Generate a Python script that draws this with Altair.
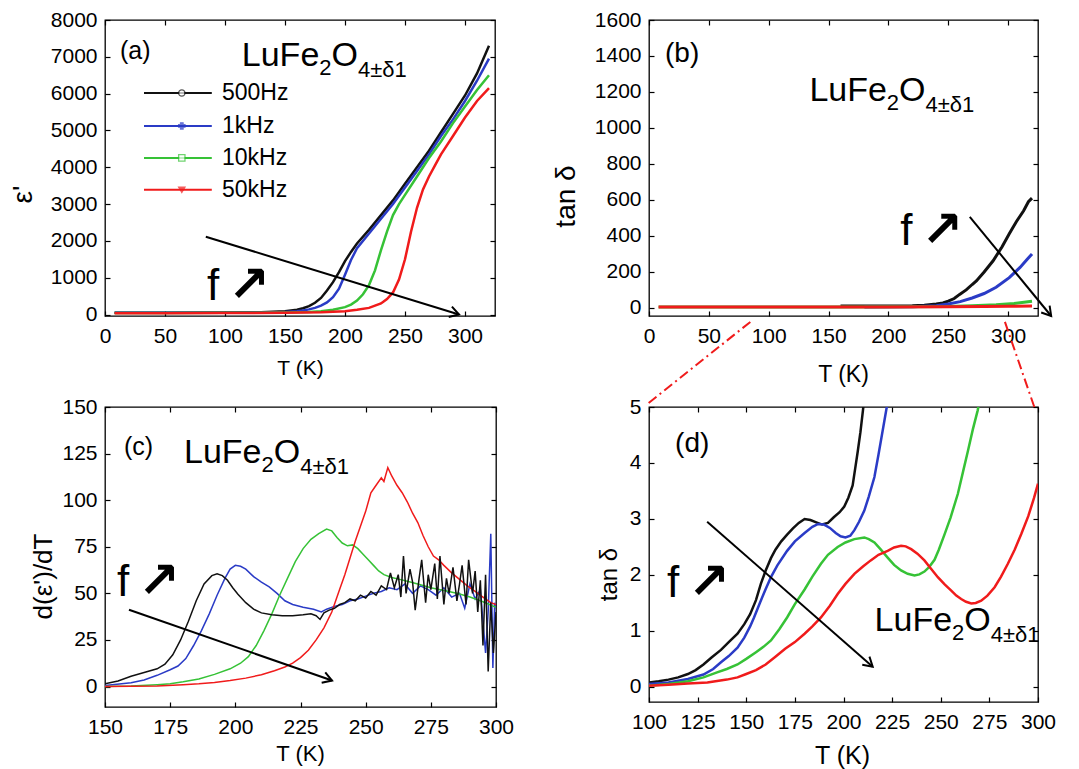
import math
import altair as alt
import pandas as pd

FONT = "Liberation Sans"
SERIES = ["500Hz", "1kHz", "10kHz", "50kHz"]
COLORS = ["#111111", "#2a3bc6", "#36c236", "#f01b1b"]
LEG_SHAPES = ["circle", "cross", "square", "triangle-down"]
LEG_FILLS = ["#ffffff", "#2a3bc6", "#ffffff", "#f01b1b"]
FORMULA = ["LuFe", "2", "O", "4±δ1"]
F_LABEL = ["f", "↗"]
PANEL_LABELS = ["(a)", "(b)", "(c)", "(d)"]

# ---------------- panel (a): eps' vs T ----------------
A_T = [8, 50, 100, 130, 150, 160, 165, 170, 175, 180, 185, 190, 195, 200, 205, 210,
       220, 230, 240, 250, 260, 270, 280, 290, 300, 310, 320]
A_500 = [50, 50, 55, 65, 90, 130, 170, 230, 320, 450, 650, 880, 1150, 1450, 1700, 1930,
         2300, 2700, 3100, 3550, 4000, 4450, 4950, 5450, 5950, 6550, 7300]
A_1K = [45, 45, 50, 55, 70, 90, 110, 140, 180, 240, 330, 470, 700, 1080, 1480, 1800,
        2200, 2600, 3000, 3450, 3900, 4350, 4850, 5300, 5800, 6350, 6950]
A_T_10K = [8, 50, 100, 150, 170, 180, 190, 200, 205, 210, 215, 220, 225, 230, 235, 240,
           245, 250, 260, 270, 280, 290, 300, 310, 320]
A_10K = [40, 40, 45, 55, 70, 90, 130, 200, 270, 380, 550, 800, 1200, 1750, 2250, 2700,
         3000, 3250, 3750, 4250, 4700, 5200, 5650, 6100, 6500]
A_T_50K = [8, 50, 100, 150, 180, 200, 210, 220, 230, 235, 240, 245, 250, 255, 260, 265,
           270, 275, 280, 290, 300, 310, 320]
A_50K = [35, 35, 40, 45, 60, 90, 130, 180, 300, 420, 600, 950, 1500, 2250, 2900, 3400,
         3750, 4050, 4350, 4850, 5350, 5800, 6150]

# ---------------- panel (b): tan delta vs T ----------------
B_T_500 = [160, 200, 220, 230, 240, 245.6, 250, 255, 259.5, 265, 270, 273.5, 280, 287.5,
           295, 301, 307, 313, 317, 320]
B_500 = [10, 10, 12, 15, 22, 28, 38, 52, 75, 100, 130, 150, 200, 262, 340, 412, 480, 540,
         590, 610]
B_T_1K = [180, 220, 240, 250, 260, 270, 280, 290, 301, 310, 316, 320]
B_1K = [5, 7, 12, 22, 35, 55, 80, 115, 168, 225, 270, 300]
B_T_10K = [8, 150, 250, 270, 290, 305, 315, 320]
B_10K = [5, 5, 8, 12, 18, 25, 33, 37]
B_T_50K = [8, 100, 200, 250, 280, 300, 320]
B_50K = [5, 5, 5, 6, 8, 9, 10]

# ---------------- panel (c): d(eps')/dT vs T ----------------
C_T_500 = [150, 155, 160, 165, 170, 173, 176, 179, 182, 185, 188, 191, 193, 195, 197, 199,
           201, 204, 207, 210, 214, 218, 222, 226, 229, 231, 232.5, 234, 236, 238, 240,
           242, 244, 246, 248, 250, 252, 254, 256, 258, 259.5, 261, 262.5, 263.5, 264.5,
           265.5, 267, 268, 269, 270.5, 271.5, 273, 274, 275, 276.5, 277.5, 278.5, 280,
           281, 282, 283.5, 285, 286, 287, 288.5, 289.5, 291, 292, 293, 294, 295, 296,
           297, 298, 299, 300]
C_500 = [1.5, 3, 5.5, 7.5, 9.5, 12, 17, 25, 35, 46, 55, 59.5, 60.5, 59.5, 57, 53,
         49.5, 45, 41.5, 39.5, 38.5, 38, 38, 38.5, 39, 38, 36, 39.5, 41, 42, 44,
         45, 47, 46, 49, 47.5, 51, 49, 54, 52, 61, 53, 60, 48, 70,
         50, 63, 56, 41, 58, 68, 45, 60, 52, 66, 47, 70,
         44, 58, 50, 64, 46, 55, 65, 44, 68, 50, 62, 40, 57, 22, 60,
         8, 45, 18, 40]
C_T_1K = [150, 160, 165, 170, 175, 178, 181, 184, 187, 190, 193, 196, 198, 200, 202, 204,
          207, 210, 213, 216, 219, 222, 226, 230, 233, 235, 238, 241, 244, 247, 250, 253,
          256, 259, 262, 265, 268, 271, 274, 277, 280, 283, 286, 288, 290, 292, 294, 296,
          297, 298, 298.8, 299.5, 300]
C_1K = [0.5, 2, 3.5, 6, 9, 11, 15, 22, 30, 39, 49, 58, 63, 65, 64.5, 63,
        59, 56, 53.5, 50, 46, 44, 42.5, 41.5, 40, 41.5, 43, 44, 46, 47, 48.5, 50,
        51, 53, 52, 55, 50, 54, 52, 49, 53, 48, 50, 42, 55, 47, 52, 18,
        40, 82, 10, 45, 42]
C_T_10K = [150, 160, 170, 175, 180, 186, 192, 198, 202, 205, 208, 211, 214, 217, 220, 223,
           226, 229, 232, 235, 237, 239, 241, 243, 245, 247, 249, 251, 253, 255, 257, 260,
           263, 266, 270, 275, 280, 285, 290, 295, 300]
C_10K = [0, 0.3, 1, 1.5, 2.5, 4, 6.5, 9.5, 12.5, 16, 22, 30, 39, 49, 58, 67,
         74, 79, 82, 84.5, 83.5, 80, 77, 75.5, 76, 74, 71, 68, 65, 62, 60, 58.5,
         57.5, 56.5, 55, 53, 51.5, 50, 48, 45.5, 42.5]
C_T_50K = [150, 170, 180, 186, 192, 198, 204, 210, 215, 219, 222, 225, 228, 231, 234, 237,
           240, 242, 244, 246, 248, 250, 252, 254, 256, 257, 258.5, 260, 262, 264, 266,
           268, 270, 272, 274, 276, 278, 280, 283, 286, 289, 292, 295, 298, 300]
C_50K = [0, 0.3, 1, 1.5, 2.2, 3.2, 4.5, 6.3, 8.5, 10.5, 12.5, 15.5, 19.5, 25, 31.5, 40,
         52, 60, 69, 78, 86, 94, 104, 108, 112, 110, 117.5, 113, 108, 104, 99,
         93, 88, 81, 75, 70, 68, 65, 61, 57.5, 54, 51, 48, 45, 44]

# ---------------- panel (d): tan delta (zoom) vs T ----------------
D_T_500 = [100, 105, 110, 115, 120, 124, 128, 132, 137, 141, 145.5, 149, 152, 155, 157.5,
           160, 162.7, 165, 168, 171, 174, 177, 180, 183, 186, 189, 192, 195, 198, 200.4,
           202.5, 204.7, 206, 207.3, 208.7, 210, 211.5, 213]
D_500 = [0.08, 0.1, 0.13, 0.17, 0.23, 0.3, 0.4, 0.52, 0.66, 0.8, 0.95, 1.12, 1.3, 1.55,
         1.84, 2.08, 2.3, 2.45, 2.6, 2.72, 2.83, 2.93, 3.0, 2.98, 2.94, 2.9, 2.93, 3.03,
         3.12, 3.22, 3.38, 3.6, 3.9, 4.2, 4.55, 4.94, 5.4, 5.9]
D_T_1K = [100, 110, 120, 128, 133, 137, 141, 145.5, 149, 152, 154, 157, 160, 162.7, 166,
          171, 175, 180, 184, 187, 190, 193, 196, 198.5, 201, 203.5, 205.6, 208, 210.7,
          213, 215.9, 218, 219.5, 221, 222.5, 224]
D_1K = [0.05, 0.08, 0.14, 0.22, 0.32, 0.44, 0.55, 0.7, 0.88, 1.08, 1.24, 1.5, 1.75, 1.96,
        2.17, 2.43, 2.6, 2.75, 2.86, 2.91, 2.9, 2.84, 2.75, 2.69, 2.67, 2.7, 2.8, 2.95,
        3.15, 3.4, 3.75, 4.15, 4.45, 4.75, 5.05, 5.4]
D_T_10K = [100, 110, 120, 128, 135, 140, 145.5, 150, 155, 159, 162.7, 167, 171, 175, 180,
           184, 188.4, 192, 197, 201, 205.6, 210.7, 213, 215.9, 219, 222.7, 226, 229.6,
           233, 236.5, 239, 241.6, 244, 246.8, 249, 252, 255, 258.8, 261.5, 264, 266.5,
           269, 271]
D_10K = [0.02, 0.05, 0.1, 0.17, 0.26, 0.32, 0.4, 0.5, 0.62, 0.72, 0.83, 1.03, 1.24, 1.48,
         1.74, 1.97, 2.2, 2.36, 2.5, 2.58, 2.64, 2.67, 2.64, 2.58, 2.46, 2.31, 2.18, 2.08,
         2.02, 1.99, 2.01, 2.06, 2.14, 2.27, 2.45, 2.73, 3.02, 3.45, 3.85, 4.22, 4.6,
         4.94, 5.3]
D_T_50K = [100, 110, 120, 130, 140, 145.5, 150, 155, 160, 165, 170, 175, 180, 184, 188.4,
           193, 197, 201, 205.6, 210, 214, 218, 222.7, 226, 229.6, 232, 234.8, 238, 241.6,
           245, 248.5, 252, 255.4, 258, 260.5, 263, 265.7, 268, 270.8, 274, 277.7, 281,
           284.5, 288, 291.4, 295, 298, 300]
D_50K = [0.02, 0.04, 0.06, 0.08, 0.13, 0.17, 0.23, 0.3, 0.4, 0.54, 0.68, 0.8, 0.95, 1.08,
         1.24, 1.45, 1.66, 1.84, 2.02, 2.15, 2.26, 2.36, 2.43, 2.49, 2.52, 2.51, 2.46,
         2.38, 2.26, 2.11, 1.96, 1.83, 1.72, 1.63, 1.57, 1.52, 1.49, 1.5, 1.54, 1.63,
         1.78, 1.97, 2.2, 2.45, 2.73, 3.05, 3.38, 3.63]

# ---------------- annotation anchors (data coordinates) ----------------
LEGEND_Y = [6016, 5122, 4255, 3388]
LEGEND_LINE = (32.5, 89)
LEGEND_MARK_T = 64
LEGEND_TEXT_T = 97.5

GUIDES_D = [((152.1, 6.52), (99.0, 5.05)), ((283.0, 6.52), (298.5, 4.96))]

CHAR_W = {"L": .556, "u": .556, "F": .611, "e": .556, "2": .556, "O": .778,
          "4": .556, "±": .584, "δ": .556, "1": .556}
CHEVRON = "M-1,-0.6L0,0L-1,0.6"


def long_df(pairs):
    rows = []
    for name, ts, vs in pairs:
        for t, v in zip(ts, vs):
            rows.append({"series": name, "T": t, "v": v})
    return pd.DataFrame(rows)


def twidth(s, fs):
    return sum(CHAR_W.get(c, .556) for c in s) * fs


def text_layer(xs, ys, x, y, label, fs, align="left", baseline="alphabetic", dx=0, dy=0,
               font=FONT, weight="normal"):
    df = pd.DataFrame({"T": [x], "v": [y], "label": [label]})
    return alt.Chart(df).mark_text(
        align=align, baseline=baseline, font=font, fontSize=fs, color="black",
        dx=dx, dy=dy, fontWeight=weight,
    ).encode(
        x=alt.X("T:Q", scale=xs, axis=None),
        y=alt.Y("v:Q", scale=ys, axis=None),
        text="label:N",
    )


def formula_layers(xs, ys, x, y):
    specs = [(FORMULA[0], 34, 0), (FORMULA[1], 22, 9), (FORMULA[2], 34, 0), (FORMULA[3], 22, 11)]
    out = []
    dx = 0.0
    for s, fs, dy in specs:
        out.append(text_layer(xs, ys, x, y, s, fs, dx=dx, dy=dy))
        dx += twidth(s, fs)
    return out


def f_layers(xs, ys, x, y):
    return [
        text_layer(xs, ys, x, y, F_LABEL[0], 44),
        text_layer(xs, ys, x, y, F_LABEL[1], 50, dx=21, dy=1, font="DejaVu Sans", weight="bold"),
    ]


def arrow_layers(xs, ys, cfg, p0, p1):
    (x1, y1), (x2, y2) = p0, p1
    dxp = (x2 - x1) / (cfg["xdom"][1] - cfg["xdom"][0]) * cfg["w"]
    dyp = -(y2 - y1) / (cfg["ydom"][1] - cfg["ydom"][0]) * cfg["h"]
    ang = math.degrees(math.atan2(dyp, dxp)) % 360
    df = pd.DataFrame({"x1": [x1], "y1": [y1], "x2": [x2], "y2": [y2]})
    rule = alt.Chart(df).mark_rule(color="black", strokeWidth=2, clip=False).encode(
        x=alt.X("x1:Q", scale=xs, axis=None), y=alt.Y("y1:Q", scale=ys, axis=None),
        x2="x2:Q", y2="y2:Q",
    )
    head = alt.Chart(df).mark_point(
        shape=CHEVRON, angle=ang, size=330, filled=False, color="black",
        strokeWidth=2, opacity=1, clip=False,
    ).encode(x=alt.X("x2:Q", scale=xs, axis=None), y=alt.Y("y2:Q", scale=ys, axis=None))
    return [rule, head]


def make_panel(cfg):
    xs = alt.Scale(domain=cfg["xdom"], nice=False, zero=False)
    ys = alt.Scale(domain=cfg["ydom"], nice=False, zero=False)
    common = dict(offset=-5, tickSize=5, tickWidth=1.2, tickColor="black", domain=False,
                  grid=False, labelFont=FONT, labelFontSize=21, labelColor="black",
                  labelOverlap=False, labelFlush=False, format="d", titleFont=FONT,
                  titleFontWeight="normal", titleColor="black", titleAlign="center",
                  titleBaseline="middle")
    x_axis = alt.Axis(orient="bottom", values=cfg["xticks"], title=cfg["xtitle"],
                      labelPadding=9, titleFontSize=cfg["xtfs"],
                      titleX=cfg["xtpos"][0], titleY=cfg["xtpos"][1] + 5, **common)
    y_axis = alt.Axis(orient="left", values=cfg["yticks"], title=cfg["ytitle"],
                      labelPadding=8, titleFontSize=cfg["ytfs"], titleAngle=270,
                      titleX=cfg["ytpos"][0] - 5, titleY=cfg["ytpos"][1], **common)
    lines = alt.Chart(cfg["df"]).mark_line(strokeWidth=cfg["sw"], clip=True).encode(
        x=alt.X("T:Q", scale=xs, axis=x_axis),
        y=alt.Y("v:Q", scale=ys, axis=y_axis),
        color=alt.Color("series:N", scale=alt.Scale(domain=SERIES, range=COLORS), legend=None),
    )
    frame_common = dict(labels=False, title=None, offset=-5, tickSize=5, tickWidth=1.2,
                        tickColor="black", domain=False, grid=False)
    frame_df = pd.DataFrame({"T": [cfg["xdom"][0]], "v": [cfg["ydom"][0]]})
    ax2 = alt.Chart(frame_df).mark_point(opacity=0).encode(
        x=alt.X("T:Q", scale=xs, axis=alt.Axis(orient="top", values=cfg["xticks"], **frame_common)),
        y=alt.Y("v:Q", scale=ys, axis=alt.Axis(orient="right", values=cfg["yticks"], **frame_common)),
    )
    layers = [lines, ax2]
    layers += formula_layers(xs, ys, *cfg["formula"])
    layers.append(text_layer(xs, ys, cfg["plabel"][0], cfg["plabel"][1], cfg["plabel"][2],
                             cfg["plabel_fs"], baseline="middle"))
    layers += f_layers(xs, ys, *cfg["fpos"])
    layers += arrow_layers(xs, ys, cfg, cfg["arrow"][0], cfg["arrow"][1])
    layers += cfg.get("extra", lambda xs, ys: [])(xs, ys)
    return alt.layer(*layers).resolve_axis(x="independent", y="independent").properties(
        width=cfg["w"], height=cfg["h"])


def legend_layers(xs, ys):
    df = pd.DataFrame({"series": SERIES, "v": LEGEND_Y,
                       "x1": [LEGEND_LINE[0]] * 4, "x2": [LEGEND_LINE[1]] * 4,
                       "xm": [LEGEND_MARK_T] * 4, "xt": [LEGEND_TEXT_T] * 4})
    col = alt.Color("series:N", scale=alt.Scale(domain=SERIES, range=COLORS), legend=None)
    rules = alt.Chart(df).mark_rule(strokeWidth=2).encode(
        x=alt.X("x1:Q", scale=xs, axis=None), x2="x2:Q",
        y=alt.Y("v:Q", scale=ys, axis=None), color=col)
    marks = alt.Chart(df).mark_point(filled=True, size=40, strokeWidth=1.3).encode(
        x=alt.X("xm:Q", scale=xs, axis=None), y=alt.Y("v:Q", scale=ys, axis=None),
        shape=alt.Shape("series:N", scale=alt.Scale(domain=SERIES, range=LEG_SHAPES), legend=None),
        stroke=alt.Stroke("series:N", scale=alt.Scale(domain=SERIES, range=COLORS), legend=None),
        fill=alt.Fill("series:N", scale=alt.Scale(domain=SERIES, range=LEG_FILLS), legend=None))
    texts = alt.Chart(df).mark_text(align="left", baseline="middle", font=FONT, fontSize=23,
                                    color="black").encode(
        x=alt.X("xt:Q", scale=xs, axis=None), y=alt.Y("v:Q", scale=ys, axis=None),
        text="series:N")
    return [rules, marks, texts]


def guide_layers(xs, ys):
    out = []
    for (p0, p1) in GUIDES_D:
        df = pd.DataFrame({"x1": [p0[0]], "y1": [p0[1]], "x2": [p1[0]], "y2": [p1[1]]})
        out.append(alt.Chart(df).mark_rule(color="#f01b1b", strokeWidth=2,
                                           strokeDash=[10, 4, 2, 4], clip=False).encode(
            x=alt.X("x1:Q", scale=xs, axis=None), y=alt.Y("y1:Q", scale=ys, axis=None),
            x2="x2:Q", y2="y2:Q"))
    return out


cfg_a = dict(
    df=long_df([(SERIES[0], A_T, A_500), (SERIES[1], A_T, A_1K),
                (SERIES[2], A_T_10K, A_10K), (SERIES[3], A_T_50K, A_50K)]),
    xdom=[0, 325], ydom=[-40, 8000], w=390, h=296,
    xticks=list(range(0, 301, 50)), yticks=list(range(0, 8001, 1000)),
    xtitle="T (K)", ytitle="ε'", xtfs=21, ytfs=28, xtpos=(195, 52), ytpos=(-82, 174), sw=2.5,
    formula=(114, 6750), plabel=(12.5, 7150, PANEL_LABELS[0]), plabel_fs=25,
    fpos=(85, 406), arrow=((84, 2114), (295, 0)), extra=legend_layers,
)
cfg_b = dict(
    df=long_df([(SERIES[0], B_T_500, B_500), (SERIES[1], B_T_1K, B_1K),
                (SERIES[2], B_T_10K, B_10K), (SERIES[3], B_T_50K, B_50K)]),
    xdom=[0, 325], ydom=[-45, 1600], w=389, h=296,
    xticks=list(range(0, 301, 50)), yticks=list(range(0, 1601, 200)),
    xtitle="T (K)", ytitle="tan δ", xtfs=23, ytfs=28, xtpos=(194, 58), ytpos=(-83, 176), sw=3,
    formula=(134, 1152), plabel=(13.4, 1409, PANEL_LABELS[1]), plabel_fs=28,
    fpos=(210, 348), arrow=((268, 506), (336, -45)),
)
cfg_c = dict(
    df=long_df([(SERIES[1], C_T_1K, C_1K), (SERIES[2], C_T_10K, C_10K),
                (SERIES[3], C_T_50K, C_50K), (SERIES[0], C_T_500, C_500)]),
    xdom=[150, 300], ydom=[-11, 150], w=391, h=300,
    xticks=list(range(150, 301, 25)), yticks=list(range(0, 151, 25)),
    xtitle="T (K)", ytitle="d(ε')/dT", xtfs=22, ytfs=26, xtpos=(195, 46), ytpos=(-62, 169), sw=1.5,
    formula=(180.3, 120), plabel=(157.3, 128.5, PANEL_LABELS[2]), plabel_fs=25,
    fpos=(154.6, 48.7), arrow=((159.2, 41.2), (237.1, 3.2)),
)
cfg_d = dict(
    df=long_df([(SERIES[0], D_T_500, D_500), (SERIES[1], D_T_1K, D_1K),
                (SERIES[2], D_T_10K, D_10K), (SERIES[3], D_T_50K, D_50K)]),
    xdom=[100, 300], ydom=[-0.27, 5], w=389, h=295,
    xticks=list(range(100, 301, 25)), yticks=[0, 1, 2, 3, 4, 5],
    xtitle="T (K)", ytitle="tan δ", xtfs=25, ytfs=24, xtpos=(193, 53), ytpos=(-40, 167), sw=2.5,
    formula=(216, 1.0), plabel=(113.4, 4.34, PANEL_LABELS[3]), plabel_fs=28,
    fpos=(109.3, 1.6), arrow=((129.9, 2.95), (215, 0.36)), extra=guide_layers,
)

chart = alt.concat(
    make_panel(cfg_a), make_panel(cfg_b), make_panel(cfg_c), make_panel(cfg_d),
    columns=2, spacing={"row": 91, "column": 153}, bounds="flush",
).properties(
    padding={"left": 0, "top": 0, "right": 5, "bottom": 2},
).configure_view(stroke="black", strokeWidth=1.3)

chart.save("out.html", embed_options={"renderer": "svg", "actions": False})
